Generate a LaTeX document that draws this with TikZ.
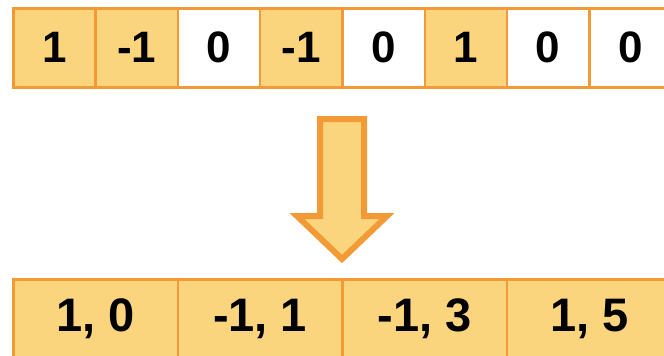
\documentclass[tikz,border=0pt]{standalone}
\usepackage{fontspec}
\setmainfont{Liberation Sans}
\definecolor{cellfill}{HTML}{FAD57D}
\definecolor{cellline}{HTML}{F29A35}
\begin{document}
\begin{tikzpicture}[x=1pt,y=-1pt,
  cellbox/.style={draw=cellline, line width=2.5pt, minimum width=82.3pt, minimum height=79pt,
    inner sep=0pt, anchor=north west, font=\fontsize{44}{44}\selectfont\bfseries},
  on/.style={cellbox, fill=cellfill},
  off/.style={cellbox, fill=white},
  pairbox/.style={cellbox, fill=cellfill, minimum width=164.6pt, font=\fontsize{47}{47}\selectfont\bfseries}]
  \clip (0,0) rectangle (664,356);
  \fill[white] (0,0) rectangle (664,356);
  % input sequence
  \node[on]  (a1) at (12,7) {1};
  \node[on]  (a2) at (94.3,7) {-1};
  \node[off] (a3) at (176.6,7) {0};
  \node[on]  (a4) at (258.9,7) {-1};
  \node[off] (a5) at (341.2,7) {0};
  \node[on]  (a6) at (423.5,7) {1};
  \node[off] (a7) at (505.8,7) {0};
  \node[off] (a8) at (588.1,7) {0};
  % down arrow
  \draw[draw=cellline, fill=cellfill, line width=6pt, line join=miter]
    (320,119) -- (364,119) -- (364,216) -- (387,216) -- (342,259) -- (297,216) -- (320,216) -- cycle;
  % encoded pairs
  \node[pairbox] (b1) at (12,278) {1, 0};
  \node[pairbox] (b2) at (176.6,278) {-1, 1};
  \node[pairbox] (b3) at (341.2,278) {-1, 3};
  \node[pairbox] (b4) at (505.8,278) {1, 5};
\end{tikzpicture}
\end{document}
